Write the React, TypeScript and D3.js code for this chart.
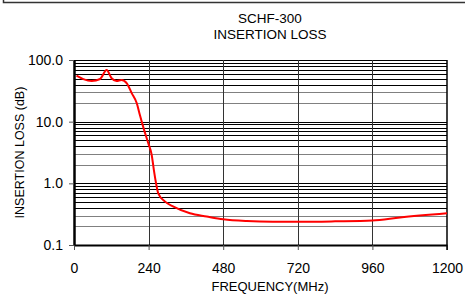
import { useEffect, useRef } from 'react';
import * as d3 from 'd3';

// frequency (MHz) and insertion loss (dB)
const freqMHz = [8, 30, 57, 84, 105, 121, 137, 153, 170, 186, 202, 212, 225, 239, 250, 257, 264, 271, 293, 320, 373, 427, 480, 556, 640, 727, 840, 960, 1049, 1200];
const lossDb = [55.6, 49, 45.6, 49.2, 68.8, 50.5, 45.6, 47.4, 41.9, 28.8, 19.9, 12.8, 7.5, 4.46, 2.88, 1.64, 1.0, 0.69, 0.505, 0.419, 0.327, 0.29, 0.261, 0.244, 0.238, 0.238, 0.242, 0.25, 0.28, 0.327];

const xTicks = [0, 240, 480, 720, 960, 1200];
const yTicks = [0.1, 1, 10, 100];
const titleLines = ['SCHF-300', 'INSERTION LOSS'];

const W = 465;
const H = 296;
const margin = { top: 60, right: 18, bottom: 51, left: 74 };
const FONT = '"Liberation Sans", Arial, sans-serif';

export default function App() {
  const svgRef = useRef<SVGSVGElement>(null);

  useEffect(() => {
    if (!svgRef.current) return;
    const svg = d3.select(svgRef.current);
    svg.selectAll('*').remove();

    const innerW = W - margin.left - margin.right;
    const innerH = H - margin.top - margin.bottom;

    const x = d3.scaleLinear().domain([0, 1200]).range([0, innerW]);
    const y = d3.scaleLog().domain([0.1, 100]).range([innerH, 0]);

    // frame fragment at top
    svg.append('path')
      .attr('d', `M3.5,0 V2.5 H${W}`)
      .attr('fill', 'none')
      .attr('stroke', '#333')
      .attr('stroke-width', 1.5);

    svg.selectAll('.title')
      .data(titleLines)
      .join('text')
      .attr('class', 'title')
      .attr('x', 270)
      .attr('y', (d, i) => 23 + i * 16)
      .attr('text-anchor', 'middle')
      .attr('font-family', FONT)
      .attr('font-size', 13.5)
      .attr('fill', '#000')
      .text((d) => d);

    const g = svg.append('g').attr('transform', `translate(${margin.left},${margin.top})`);

    // minor horizontal grid
    const minor: number[] = [];
    [0.1, 1, 10].forEach((dec) => {
      for (let k = 2; k <= 9; k++) minor.push(dec * k);
    });
    g.selectAll('.hminor')
      .data(minor)
      .join('line')
      .attr('class', 'hminor')
      .attr('x1', 0)
      .attr('x2', innerW)
      .attr('y1', (d) => Math.round(y(d)) + 0.5)
      .attr('y2', (d) => Math.round(y(d)) + 0.5)
      .attr('stroke', (d) => {
        const m = Math.round(d / Math.pow(10, Math.floor(Math.log10(d) + 1e-9)));
        return m <= 3 ? '#808080' : '#000';
      })
      .attr('stroke-width', 1);

    g.selectAll('.hmajor')
      .data(yTicks)
      .join('line')
      .attr('class', 'hmajor')
      .attr('x1', 0)
      .attr('x2', innerW)
      .attr('y1', (d) => Math.round(y(d)) + 0.5)
      .attr('y2', (d) => Math.round(y(d)) + 0.5)
      .attr('stroke', '#000')
      .attr('stroke-width', 1.2);

    g.selectAll('.vgrid')
      .data(xTicks.slice(1, -1))
      .join('line')
      .attr('class', 'vgrid')
      .attr('x1', (d) => Math.round(x(d)) + 0.5)
      .attr('x2', (d) => Math.round(x(d)) + 0.5)
      .attr('y1', 0)
      .attr('y2', innerH)
      .attr('stroke', '#333')
      .attr('stroke-width', 1);

    // axes
    const xAxis = d3.axisBottom(x).tickValues(xTicks).tickSize(5).tickSizeOuter(0).tickPadding(13).tickFormat((d) => String(d));
    const xg = g.append('g').attr('transform', `translate(0,${innerH})`).call(xAxis);
    xg.select('.domain').attr('stroke', '#000').attr('stroke-width', 2);
    xg.selectAll('.tick line').attr('stroke', '#555');
    xg.selectAll('text').attr('font-family', FONT).attr('font-size', 14).attr('fill', '#000');

    const yAxis = d3.axisLeft(y).tickValues(yTicks).tickSize(5).tickSizeOuter(0).tickPadding(6).tickFormat((d) => (+d).toFixed(1));
    const yg = g.append('g').call(yAxis);
    yg.select('.domain').attr('stroke', '#000').attr('stroke-width', 2.5);
    yg.selectAll('.tick line').attr('stroke', '#555');
    yg.selectAll('text').attr('font-family', FONT).attr('font-size', 14).attr('fill', '#000');

    // right border
    g.append('line')
      .attr('x1', innerW)
      .attr('x2', innerW)
      .attr('y1', 0)
      .attr('y2', innerH + 5)
      .attr('stroke', '#000')
      .attr('stroke-width', 1.5);

    const line = d3.line<number>()
      .x((d, i) => x(freqMHz[i]))
      .y((d) => y(d))
      .curve(d3.curveMonotoneX);

    g.append('path')
      .datum(lossDb)
      .attr('d', line)
      .attr('fill', 'none')
      .attr('stroke', '#ff0000')
      .attr('stroke-width', 2);

    svg.append('text')
      .attr('x', 270)
      .attr('y', 291)
      .attr('text-anchor', 'middle')
      .attr('font-family', FONT)
      .attr('font-size', 13)
      .text('FREQUENCY(MHz)');

    svg.append('text')
      .attr('transform', `translate(24,${margin.top + innerH / 2}) rotate(-90)`)
      .attr('text-anchor', 'middle')
      .attr('font-family', FONT)
      .attr('font-size', 12.5)
      .text('INSERTION LOSS (dB)');
  }, []);

  return (
    <svg
      ref={svgRef}
      width={W}
      height={H}
      style={{ position: 'absolute', left: 0, top: 0, background: '#fff' }}
    />
  );
}
